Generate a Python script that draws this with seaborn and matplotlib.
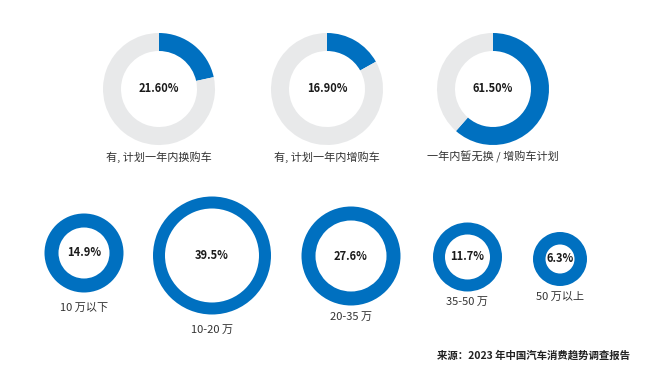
import matplotlib
matplotlib.use("Agg")
import matplotlib.pyplot as plt
import seaborn as sns

# ---- data ----
plan_labels = ["有, 计划一年内换购车", "有, 计划一年内增购车", "一年内暂无换 / 增购车计划"]
plan_values = [21.60, 16.90, 61.50]
price_labels = ["10 万以下", "10-20 万", "20-35 万", "35-50 万", "50 万以上"]
price_values = [14.9, 39.5, 27.6, 11.7, 6.3]
source_text = "来源：2023 年中国汽车消费趋势调查报告"

# ---- layout / style (pixel coords, y from top) ----
W, H = 654, 377
BLUE = "#0070C0"
GREY = "#E8E9EA"
top_centers = [(159, 89), (327, 89), (493, 89)]
top_r, top_w = 56, 18
top_label_y = 157
bot_centers = [(84, 253), (212, 255.5), (351, 256), (467.5, 257), (560, 259)]
bot_r = [39.5, 59, 49.5, 34.5, 27]
bot_w = [14, 12, 14, 12, 12.5]
bot_label_y = [308, 330, 317, 302, 297]

sns.set_theme(style="white")
plt.rcParams["font.family"] = ["Noto Sans CJK SC", "DejaVu Sans"]

fig = plt.figure(figsize=(W / 100, H / 100), dpi=100)
ax = fig.add_axes([0, 0, 1, 1])

def yy(y):
    return H - y

for (cx, cy), v, lab in zip(top_centers, plan_values, plan_labels):
    ax.pie([v, 100 - v], colors=[BLUE, GREY], startangle=90, counterclock=False,
           radius=top_r, center=(cx, yy(cy)), frame=True,
           wedgeprops=dict(width=top_w, linewidth=0))
    ax.text(cx, yy(cy), f"{v:.2f}%", ha="center", va="center", fontsize=8,
            fontweight="bold", color="#1a1a1a")
    ax.text(cx, yy(top_label_y), lab, ha="center", va="center", fontsize=8,
            color="#333333")

for (cx, cy), r, w, v, lab, ly in zip(bot_centers, bot_r, bot_w, price_values,
                                      price_labels, bot_label_y):
    ax.pie([v], colors=[BLUE], startangle=90, counterclock=False, normalize=True,
           radius=r, center=(cx, yy(cy)), frame=True,
           wedgeprops=dict(width=w, linewidth=0))
    ax.text(cx, yy(cy), f"{v}%", ha="center", va="center", fontsize=8,
            fontweight="bold", color="#1a1a1a")
    ax.text(cx, yy(ly), lab, ha="center", va="center", fontsize=8, color="#333333")

ax.text(630, yy(355.5), source_text, ha="right", va="center", fontsize=7.5,
        fontweight="bold", color="#222222")

ax.set_xlim(0, W)
ax.set_ylim(0, H)
ax.set_aspect("auto")
ax.axis("off")
fig.savefig("out.png", dpi=100, facecolor="white")
